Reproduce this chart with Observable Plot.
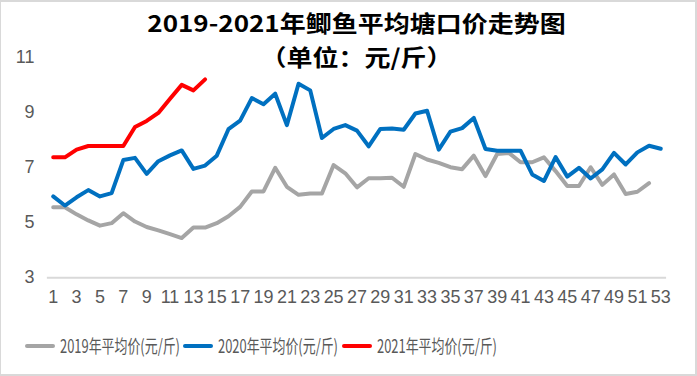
<!DOCTYPE html>
<html>
<head>
<meta charset="utf-8">
<script src="https://cdn.jsdelivr.net/npm/d3@7"></script>
<script src="https://cdn.jsdelivr.net/npm/@observablehq/plot@0.6"></script>
<style>
  html, body { margin: 0; padding: 0; background: #fff; }
  #frame { position: relative; width: 697px; height: 376px; box-sizing: border-box;
    border: 2px solid #d9d9d9; border-left-width: 1px; overflow: hidden; background: #fff; }
  #chart { position: absolute; left: -1px; top: -2px; }
  .title { position: absolute; left: 7px; width: 697px; text-align: center;
    font-family: "Noto Sans CJK SC", sans-serif; font-weight: bold; font-size: 26px;
    line-height: 38px; color: #000; white-space: nowrap; transform: scaleY(0.88); transform-origin: 50% 50%; }
  .sw { position: absolute; height: 4px; width: 30px; border-radius: 2px; }
  .lt { position: absolute; font-family: "Noto Sans CJK SC", sans-serif; font-size: 18.5px;
    line-height: 22px; color: #595959; white-space: nowrap; transform-origin: 0 50%; }
</style>
</head>
<body>
<div id="frame">
  <div id="chart"></div>
</div>
<script>
const titleLines = ["2019-2021年鲫鱼平均塘口价走势图", "（单位：元/斤）"];
const seriesNames = ["2019年平均价(元/斤)", "2020年平均价(元/斤)", "2021年平均价(元/斤)"];
const seriesColors = ["#a5a5a5", "#0070c0", "#ff0000"];
const weeks = d3.range(1, 54);
const xTicks = [1,3,5,7,9,11,13,15,17,19,21,23,25,27,29,31,33,35,37,39,41,43,45,47,49,51,53];
const yTicks = [3, 5, 7, 9, 11];

const price2019 = [5.56,5.56,5.30,5.08,4.89,4.98,5.34,5.04,4.84,4.72,
  4.58,4.44,4.82,4.82,4.98,5.23,5.57,6.13,6.13,6.99,
  6.30,6.01,6.06,6.06,7.09,6.79,6.28,6.61,6.61,6.63,
  6.30,7.49,7.29,7.17,7.01,6.94,7.43,6.69,7.49,7.53,
  7.19,7.19,7.37,6.87,6.33,6.33,7.01,6.37,6.75,6.04,
  6.12,6.43];
const price2020 = [5.95,5.62,5.92,6.18,5.95,6.07,7.27,7.35,6.77,7.23,
  7.44,7.62,6.95,7.07,7.43,8.39,8.70,9.52,9.30,9.68,
  8.54,10.04,9.80,8.07,8.40,8.54,8.34,7.77,8.40,8.42,
  8.37,8.96,9.06,7.65,8.30,8.43,8.80,7.67,7.61,7.61,
  7.61,6.75,6.51,7.38,6.67,6.99,6.60,6.93,7.53,7.11,
  7.55,7.79,7.68];
const price2021 = [7.37,7.37,7.65,7.78,7.78,7.78,7.78,8.47,8.69,8.98,
  9.50,10.00,9.80,10.20];

const allSeries = [price2019, price2020, price2021];
const rows = [];
allSeries.forEach((vals, s) => vals.forEach((v, i) => rows.push({week: weeks[i], value: v, series: seriesNames[s]})));

const plot = Plot.plot({
  width: 697,
  height: 320,
  marginLeft: 47,
  marginRight: 29,
  marginTop: 57,
  marginBottom: 42,
  style: { fontSize: "18px", fontFamily: "'Liberation Sans', sans-serif", color: "#595959", background: "transparent" },
  x: { type: "linear", domain: [0.5, 53.5], ticks: xTicks, tickSize: 0, tickPadding: 13, tickFormat: d => String(d), label: null },
  y: { domain: [3, 11], ticks: yTicks, tickSize: 0, tickPadding: 13, label: null },
  color: { domain: seriesNames, range: seriesColors },
  marks: [
    Plot.ruleY([3], { stroke: "#d9d9d9", strokeWidth: 2 }),
    Plot.line(rows, { x: "week", y: "value", z: "series", stroke: "series", strokeWidth: 4, strokeLinejoin: "round", strokeLinecap: "round" })
  ]
});
document.getElementById("chart").appendChild(plot);

const frame = document.getElementById("frame");
const titleCenters = [22, 56];
titleLines.forEach((t, i) => {
  const d = document.createElement("div");
  d.className = "title";
  d.style.top = (titleCenters[i] - 2 - 19) + "px";
  d.textContent = t;
  frame.appendChild(d);
});

const legendX = [24, 182, 341];
seriesNames.forEach((name, i) => {
  const sw = document.createElement("div");
  sw.className = "sw";
  sw.style.left = legendX[i] + "px";
  sw.style.top = "342px";
  sw.style.background = seriesColors[i];
  frame.appendChild(sw);
  const t = document.createElement("div");
  t.className = "lt";
  t.style.left = (legendX[i] + 35) + "px";
  t.style.top = "332px";
  t.textContent = name;
  frame.appendChild(t);
  const w = t.getBoundingClientRect().width;
  t.style.transform = "scaleX(" + (120 / w) + ")";
});
</script>
</body>
</html>
